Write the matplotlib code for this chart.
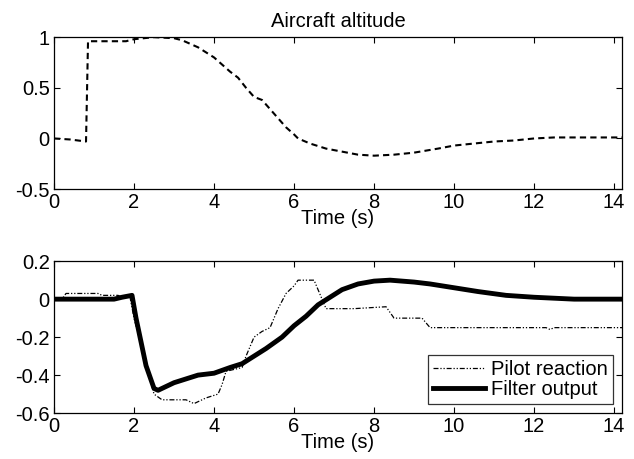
import numpy as np
import matplotlib
matplotlib.use('Agg')
import matplotlib.pyplot as plt

plt.rcParams['font.family'] = ['Liberation Sans', 'DejaVu Sans']

# aircraft altitude (top panel)
t_alt = [0, 0.4, 0.8, 0.85, 1.2, 1.8, 2.0, 2.5, 3.0, 3.2, 3.6, 4.0, 4.4, 4.6, 4.8, 5.0, 5.2,
         5.4, 5.6, 5.8, 6.0, 6.1, 6.4, 6.8, 7.2, 7.6, 8.0, 8.5, 9.0, 9.6, 10.0, 10.5,
         11.0, 11.5, 12.0, 12.5, 13.5, 14.2]
alt = [0, -0.01, -0.03, 0.96, 0.96, 0.96, 0.98, 1.0, 0.99, 0.97, 0.9, 0.8, 0.66, 0.6, 0.5,
       0.41, 0.38, 0.29, 0.2, 0.11, 0.04, 0.0, -0.05, -0.1, -0.13, -0.16, -0.17, -0.16,
       -0.14, -0.1, -0.07, -0.05, -0.03, -0.02, 0.0, 0.01, 0.01, 0.01]

# pilot reaction (bottom panel)
t_pil = [0, 0.2, 0.3, 1.1, 1.2, 1.6, 1.7, 1.9, 2.0, 2.5, 2.7, 3.3, 3.5, 3.8, 4.1, 4.2, 4.3,
         4.7, 4.8, 5.0, 5.2, 5.4, 5.6, 5.8, 6.0, 6.1, 6.5, 6.6, 6.8, 7.5, 8.3, 8.5, 9.2,
         9.4, 12.3, 12.4, 12.5, 14.2]
pilot = [0, 0, 0.03, 0.03, 0.02, 0.02, 0.01, 0.01, -0.1, -0.5, -0.53, -0.53, -0.55, -0.52,
         -0.5, -0.45, -0.38, -0.36, -0.3, -0.2, -0.17, -0.15, -0.05, 0.03, 0.07, 0.1, 0.1,
         0.05, -0.05, -0.05, -0.04, -0.1, -0.1, -0.15, -0.15, -0.16, -0.15, -0.15]

# filter output (bottom panel)
t_fil = [0, 1.5, 1.7, 1.95, 2.05, 2.3, 2.5, 2.6, 2.8, 3.0, 3.3, 3.6, 4.0, 4.4, 4.7, 5.0,
         5.3, 5.7, 6.0, 6.3, 6.6, 6.9, 7.2, 7.6, 8.0, 8.4, 9.0, 9.4, 10.0, 10.6, 11.3,
         12.0, 12.5, 13.0, 14.2]
filt = [0, 0, 0.01, 0.02, -0.1, -0.35, -0.47, -0.48, -0.46, -0.44, -0.42, -0.4, -0.39,
        -0.36, -0.34, -0.3, -0.26, -0.2, -0.14, -0.09, -0.03, 0.01, 0.05, 0.08, 0.095,
        0.1, 0.09, 0.08, 0.06, 0.04, 0.02, 0.01, 0.005, 0, 0]

fs = 14.5

fig = plt.figure(figsize=(6.34, 4.59), dpi=100)
ax1 = fig.add_axes([0.0852, 0.588, 0.896, 0.331])
ax2 = fig.add_axes([0.0852, 0.100, 0.896, 0.331])

ax1.plot(t_alt, alt, 'k--', lw=1.5, dashes=(3, 2))
ax1.set_title('Aircraft altitude', fontsize=fs, pad=7)
ax1.set_ylim(-0.5, 1)
ax1.set_yticks([-0.5, 0, 0.5, 1])
ax1.set_yticklabels(['-0.5', '0', '0.5', '1'])

ax2.plot(t_pil, pilot, 'k', lw=0.9, dashes=(4, 1.5, 1, 1.5, 1, 1.5), label='Pilot reaction')
ax2.plot(t_fil, filt, 'k-', lw=3.5, label='Filter output')
ax2.set_ylim(-0.6, 0.2)
ax2.set_yticks([-0.6, -0.4, -0.2, 0, 0.2])
ax2.set_yticklabels(['-0.6', '-0.4', '-0.2', '0', '0.2'])
leg = ax2.legend(loc='lower right', fontsize=fs, fancybox=False, edgecolor='k',
                 handlelength=2.6, borderpad=0.25, labelspacing=0.05, handletextpad=0.3,
                 borderaxespad=0.45)
leg.get_frame().set_linewidth(0.9)

for ax in (ax1, ax2):
    ax.set_xlim(0, 14.2)
    ax.set_xticks(range(0, 15, 2))
    ax.set_xlabel('Time (s)', fontsize=fs, labelpad=-2)
    ax.tick_params(direction='in', top=True, right=True, labelsize=fs, length=4, pad=3)
    for s in ax.spines.values():
        s.set_linewidth(0.9)

fig.savefig('out.png', dpi=100)
